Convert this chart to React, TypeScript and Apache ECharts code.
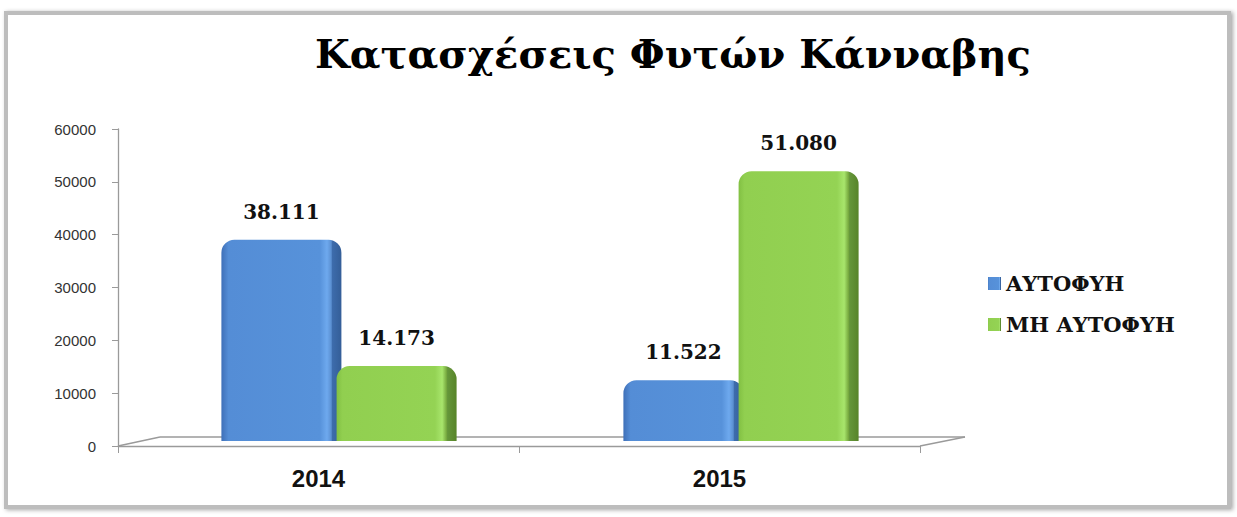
import React, { useEffect, useRef } from "react";
import * as echarts from "echarts";

const years = ["2014", "2015"];
const seriesNames = ["ΑΥΤΟΦΥΗ", "ΜΗ ΑΥΤΟΦΥΗ"];
const autofyi = [38111, 11522];
const mhAutofyi = [14173, 51080];
const yTicks = { min: 0, max: 60000, interval: 10000 };
const titleText = "Κατασχέσεις Φυτών Κάνναβης";

const fmt = (v: number) => String(v).replace(/\B(?=(\d{3})+(?!\d))/g, ".");

const blueGrad = new echarts.graphic.LinearGradient(0, 0, 1, 0, [
  { offset: 0, color: "#3f70b8" },
  { offset: 0.06, color: "#548dd6" },
  { offset: 0.82, color: "#5792da" },
  { offset: 0.88, color: "#6ea9ee" },
  { offset: 0.915, color: "#5b90d2" },
  { offset: 0.925, color: "#3d6cac" },
  { offset: 1, color: "#345e98" },
]);
const greenGrad = new echarts.graphic.LinearGradient(0, 0, 1, 0, [
  { offset: 0, color: "#82c043" },
  { offset: 0.05, color: "#91cf50" },
  { offset: 0.82, color: "#94d354" },
  { offset: 0.88, color: "#a8e56c" },
  { offset: 0.915, color: "#78aa40" },
  { offset: 0.925, color: "#65963a" },
  { offset: 1, color: "#578429" },
]);

export default function App() {
  const ref = useRef<HTMLDivElement>(null);
  useEffect(() => {
    document.body.style.margin = "0";
    const chart = echarts.init(ref.current!, null, { renderer: "svg" });
    const labelStyle = {
      show: true,
      position: "top" as const,
      distance: 18,
      formatter: (p: any) => fmt(p.value),
      fontFamily: "DejaVu Serif",
      fontWeight: "bold" as const,
      fontSize: 20,
      color: "#111",
    };
    chart.setOption({
      animation: false,
      backgroundColor: "#ffffff",
      title: {
        text: titleText,
        left: 668,
        top: 28,
        textAlign: "center",
        textStyle: {
          fontFamily: "DejaVu Serif",
          fontWeight: "bold",
          fontSize: 40,
          color: "#000",
        },
      },
      graphic: [
        {
          type: "rect",
          z: -10,
          shape: { x: 6, y: 13, width: 1223, height: 494 },
          style: {
            fill: "#fff",
            stroke: "#bdbdbd",
            lineWidth: 4,
            shadowBlur: 4,
            shadowColor: "rgba(0,0,0,0.35)",
            shadowOffsetX: 2,
            shadowOffsetY: 1,
          },
        },
        { type: "line", z: 1, shape: { x1: 160, y1: 437, x2: 965, y2: 437 }, style: { stroke: "#9a9a9a", lineWidth: 1.3 } },
        { type: "line", z: 1, shape: { x1: 118, y1: 446, x2: 160, y2: 437 }, style: { stroke: "#9a9a9a", lineWidth: 1.3 } },
        { type: "line", z: 1, shape: { x1: 920, y1: 446, x2: 965, y2: 437 }, style: { stroke: "#9a9a9a", lineWidth: 1.3 } },
      ],
      legend: {
        orient: "vertical",
        left: 983,
        top: 268,
        itemWidth: 13,
        itemHeight: 13,
        itemGap: 20,
        icon: "rect",
        formatter: "{b|{name}}",
        textStyle: {
          fontFamily: "DejaVu Serif",
          fontWeight: "bold",
          fontSize: 21,
          color: "#111",
          rich: {
            b: {
              fontFamily: "DejaVu Serif",
              fontWeight: "bold",
              fontSize: 21,
              color: "#111",
            },
          },
        },
        data: seriesNames,
      },
      grid: [
        { left: 118, right: 317, top: 129, bottom: 71 },
        { left: 138, right: 295, top: 124, bottom: 76 },
      ],
      xAxis: [
        {
          type: "category",
          gridIndex: 0,
          data: years,
          axisLine: { lineStyle: { color: "#9a9a9a", width: 1.3 } },
          axisTick: { show: true, length: 7, lineStyle: { color: "#9a9a9a" } },
          axisLabel: {
            margin: 20,
            fontFamily: "Liberation Sans",
            fontWeight: "bold",
            fontSize: 24,
            color: "#111",
          },
        },
        {
          type: "category",
          gridIndex: 1,
          data: years,
          show: false,
        },
      ],
      yAxis: [
        {
          type: "value",
          gridIndex: 0,
          ...yTicks,
          axisLine: { show: true, lineStyle: { color: "#9a9a9a", width: 1.3 } },
          axisTick: { show: true, length: 6, lineStyle: { color: "#9a9a9a" } },
          splitLine: { show: false },
          axisLabel: {
            margin: 22,
            formatter: (v: number) => String(v),
            fontFamily: "Liberation Sans",
            fontSize: 15,
            color: "#333",
          },
        },
        {
          type: "value",
          gridIndex: 1,
          ...yTicks,
          show: false,
          splitLine: { show: false },
        },
      ],
      series: [
        {
          name: seriesNames[0],
          type: "bar",
          xAxisIndex: 1,
          yAxisIndex: 1,
          data: autofyi,
          barWidth: 120,
          barGap: "-4%",
          z: 2,
          itemStyle: { color: blueGrad, borderRadius: [13, 13, 0, 0] },
          label: labelStyle,
        },
        {
          name: seriesNames[1],
          type: "bar",
          xAxisIndex: 1,
          yAxisIndex: 1,
          data: mhAutofyi,
          barWidth: 120,
          z: 3,
          itemStyle: { color: greenGrad, borderRadius: [13, 13, 0, 0] },
          label: labelStyle,
        },
      ],
    });
    return () => chart.dispose();
  }, []);
  return <div ref={ref} style={{ width: 1237, height: 517 }} />;
}
